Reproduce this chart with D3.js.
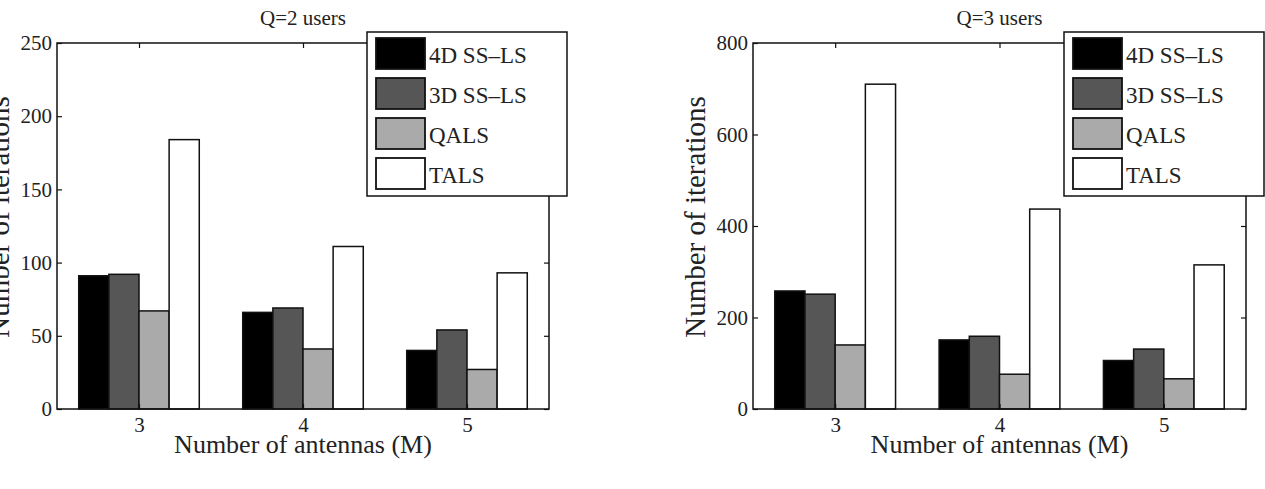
<!DOCTYPE html>
<html lang="en">
  <head>
    <meta charset="utf-8">
    <title>Iterations vs antennas</title>
    <script type="text/javascript" src="https://cdn.jsdelivr.net/npm/d3@7"></script>
    <style>
      body { margin: 0; background: #fff; }
      text { font-family: "Liberation Serif", "Times New Roman", serif; fill: #222; }
    </style>
  </head>
  <body>
    <script type="text/javascript">
    // number of antennas on the x axis
    var antennas = [3, 4, 5];
    var seriesNames = ["4D SS\u2013LS", "3D SS\u2013LS", "QALS", "TALS"];

    // Q=2 users
    var q2_4dss = [91, 66, 40];
    var q2_3dss = [92, 69, 54];
    var q2_qals = [67, 41, 27];
    var q2_tals = [184, 111, 93];
    var q2Ticks = [0, 50, 100, 150, 200, 250];

    // Q=3 users
    var q3_4dss = [258, 151, 106];
    var q3_3dss = [251, 159, 131];
    var q3_qals = [140, 76, 66];
    var q3_tals = [710, 437, 315];
    var q3Ticks = [0, 200, 400, 600, 800];

    var fills = ["#000000", "#565656", "#aaaaaa", "#ffffff"];

    var w = 1265;
    var h = 489;

    var svg = d3.select("body")
                .append("svg")
                .attr("width", w)
                .attr("height", h);

    svg.append("rect")
       .attr("width", w)
       .attr("height", h)
       .attr("fill", "#fff");

    // note: "top" is taken by window.top, so use other names
    var plotTop = 43, plotBottom = 409;
    var groupWidth = 0.735;

    var drawPanel = function(opts) {
      var g = svg.append("g");
      var xScale = d3.scaleLinear()
                     .domain([2.5, 5.5])
                     .range([opts.left, opts.right]);
      var yScale = d3.scaleLinear()
                     .domain([0, opts.yMax])
                     .range([plotBottom, plotTop]);

      // bars, one group per antenna count
      var barW = groupWidth / seriesNames.length;
      opts.series.forEach(function(vals, si) {
        g.selectAll(null)
         .data(vals)
         .enter()
         .append("rect")
         .attr("x", function(d, i) {
           return xScale(antennas[i] - groupWidth / 2 + si * barW);
         })
         .attr("y", function(d) { return yScale(d); })
         .attr("width", xScale(barW) - xScale(0))
         .attr("height", function(d) { return plotBottom - yScale(d); })
         .attr("fill", fills[si])
         .attr("stroke", "#111")
         .attr("stroke-width", 1.5);
      });

      // axes with inward ticks on all four sides
      var yLeft = d3.axisLeft(yScale).tickValues(opts.ticks)
                    .tickSize(-5).tickPadding(5).tickFormat(d3.format("d"));
      var yRight = d3.axisRight(yScale).tickValues(opts.ticks)
                     .tickSize(-5).tickFormat("");
      var xBottom = d3.axisBottom(xScale).tickValues(antennas)
                      .tickSize(-5).tickPadding(8).tickFormat(d3.format("d"));
      var xTop = d3.axisTop(xScale).tickValues(antennas)
                   .tickSize(-5).tickFormat("");

      var axes = [
        g.append("g").attr("transform", "translate(" + opts.left + ",0)").call(yLeft),
        g.append("g").attr("transform", "translate(" + opts.right + ",0)").call(yRight),
        g.append("g").attr("transform", "translate(0," + plotBottom + ")").call(xBottom),
        g.append("g").attr("transform", "translate(0," + plotTop + ")").call(xTop)
      ];
      axes.forEach(function(a) {
        a.select(".domain").remove();
        a.selectAll("line").attr("stroke", "#111").attr("stroke-width", 1.2);
        a.selectAll("text").attr("font-size", 21).attr("fill", "#222")
         .attr("font-family", '"Liberation Serif", "Times New Roman", serif');
      });

      g.append("rect")
       .attr("x", opts.left)
       .attr("y", plotTop)
       .attr("width", opts.right - opts.left)
       .attr("height", plotBottom - plotTop)
       .attr("fill", "none")
       .attr("stroke", "#111")
       .attr("stroke-width", 1.5);

      // title and axis labels
      var cx = (opts.left + opts.right) / 2;
      g.append("text")
       .text(opts.title)
       .attr("x", cx)
       .attr("y", 25)
       .attr("text-anchor", "middle")
       .attr("font-size", 21);

      g.append("text")
       .text("Number of antennas (M)")
       .attr("x", cx)
       .attr("y", 453)
       .attr("text-anchor", "middle")
       .attr("font-size", 26);

      g.append("text")
       .text("Number of iterations")
       .attr("transform", "translate(" + (opts.left - 48) + ",217) rotate(-90)")
       .attr("text-anchor", "middle")
       .attr("font-size", 29);

      // legend box, overlapping the top-right corner
      var lx = opts.right - 182, ly = 32;
      var leg = g.append("g").attr("transform", "translate(" + lx + "," + ly + ")");
      leg.append("rect")
         .attr("width", 200)
         .attr("height", 164)
         .attr("fill", "#fff")
         .attr("stroke", "#111")
         .attr("stroke-width", 1.5);
      var rows = leg.selectAll("g.row")
                    .data(seriesNames)
                    .enter()
                    .append("g")
                    .attr("transform", function(d, i) { return "translate(9," + (6 + i * 40) + ")"; });
      rows.append("rect")
          .attr("width", 49)
          .attr("height", 31)
          .attr("fill", function(d, i) { return fills[i]; })
          .attr("stroke", "#111")
          .attr("stroke-width", 1.8);
      rows.append("text")
          .text(function(d) { return d; })
          .attr("x", 53)
          .attr("y", 25)
          .attr("font-size", 23);
    };

    drawPanel({
      left: 57, right: 549, yMax: 250, ticks: q2Ticks, title: "Q=2 users",
      series: [q2_4dss, q2_3dss, q2_qals, q2_tals]
    });

    drawPanel({
      left: 753, right: 1246, yMax: 800, ticks: q3Ticks, title: "Q=3 users",
      series: [q3_4dss, q3_3dss, q3_qals, q3_tals]
    });
    </script>
  </body>
</html>
